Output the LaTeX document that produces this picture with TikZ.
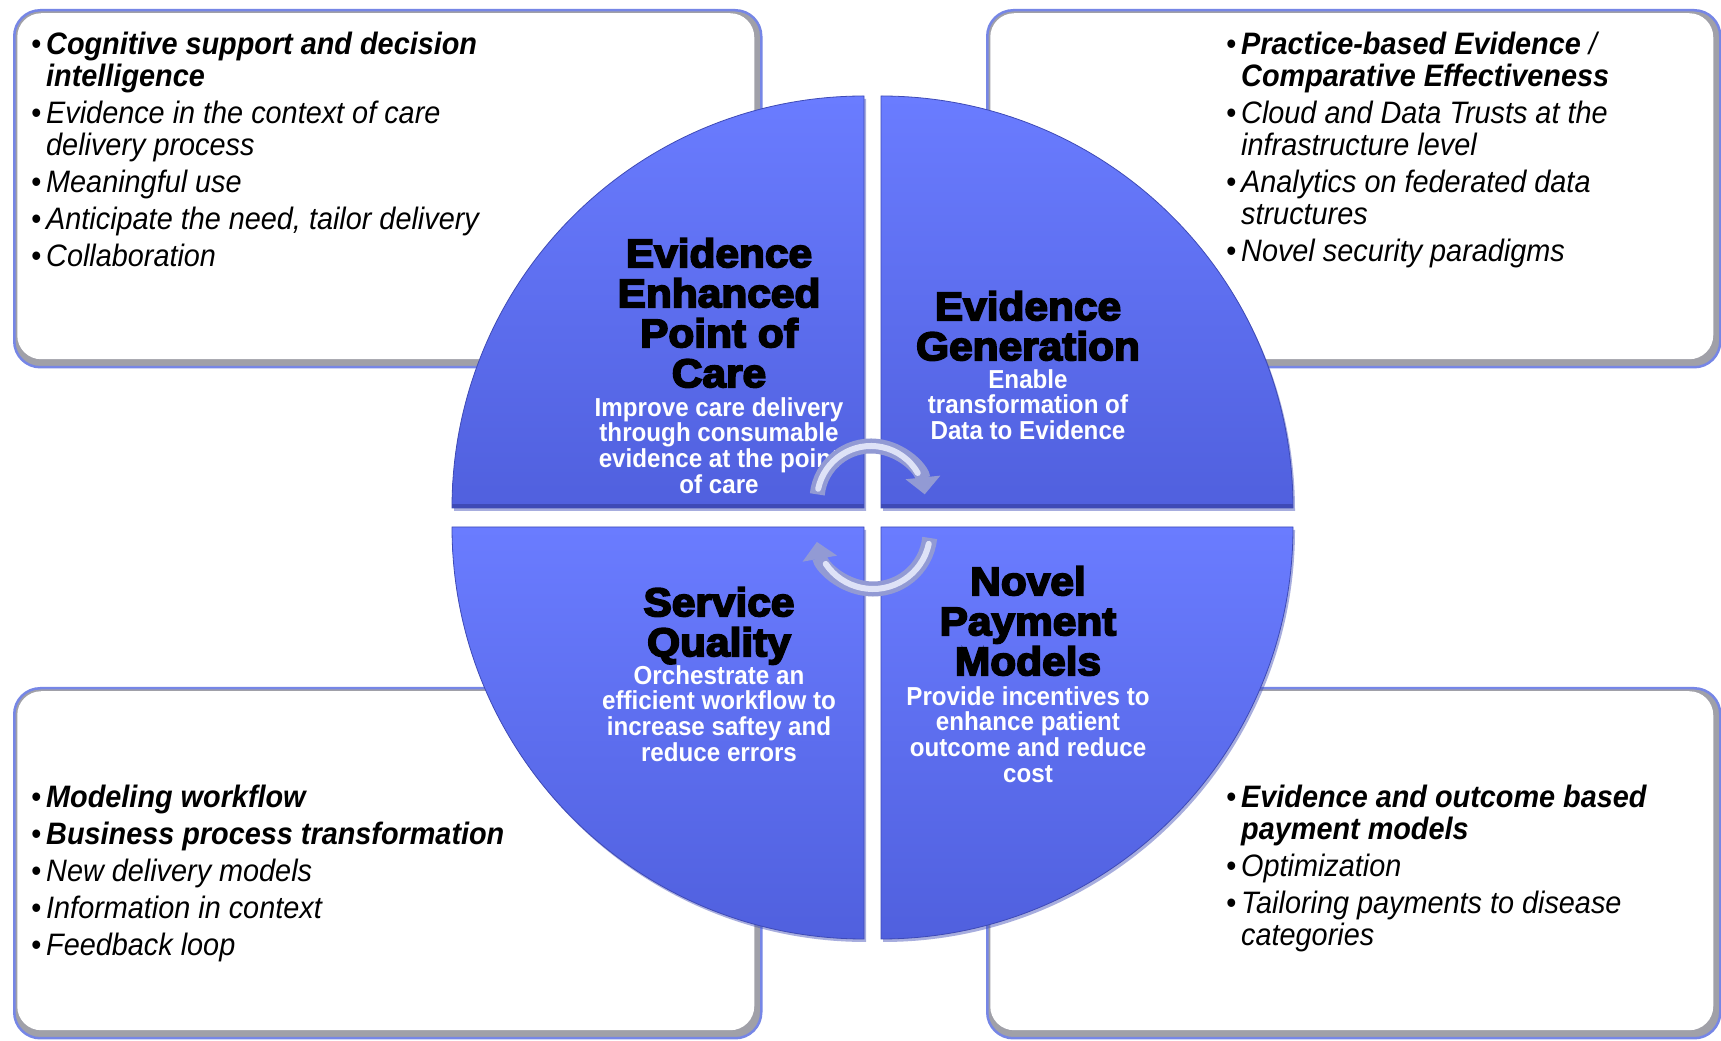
\documentclass[tikz,border=0pt]{standalone}
\usepackage{fontspec}
\setmainfont{Liberation Sans}[FakeStretch=0.93]
\newfontfamily\titlefont{Liberation Sans Bold}[FakeStretch=1.06]
\usetikzlibrary{arrows.meta}
\usetikzlibrary{shadows}
\usetikzlibrary{calc}

\definecolor{quadtop}{RGB}{106,124,255}
\definecolor{quadbot}{RGB}{80,96,222}
\definecolor{quadedge}{RGB}{62,74,182}
\definecolor{boxblue}{RGB}{118,134,230}
\definecolor{boxshade}{RGB}{160,160,168}
\definecolor{arrowdark}{RGB}{146,154,212}
\definecolor{arrowlight}{RGB}{222,226,247}

\newcommand{\bitem}{\makebox[15pt][l]{\textbullet}}
\newcommand{\bcont}{\hspace*{15pt}}
\newcommand{\heavyink}{\special{pdf:literal 2 Tr 1.8 w}}

\tikzset{
  infobox/.style={anchor=north west, draw=boxblue, line width=2.5pt,
    rounded corners=26pt, fill=boxshade,
    path picture={\fill[white, rounded corners=24pt]
      ([shift={(3pt,8pt)}]path picture bounding box.south west) rectangle
      ([shift={(-7pt,-3pt)}]path picture bounding box.north east);}},
  quad/.style={top color=quadtop, bottom color=quadbot, draw=quadedge, line width=0.8pt,
    drop shadow={shadow xshift=2pt, shadow yshift=-3pt, opacity=0.45, fill=quadedge}},
  title/.style={anchor=north, align=center, inner sep=0pt, text=black,
    font=\titlefont\fontsize{40}{40}\selectfont\heavyink},
  subtitle/.style={anchor=north, align=center, inner sep=0pt, text=white,
    font=\bfseries\fontsize{26}{25.7}\selectfont},
  bullets/.style={anchor=north west, align=left, inner sep=0pt, text=black,
    font=\itshape\fontsize{31}{32}\selectfont},
  cyclearrow/.style={draw=arrowdark, line width=15pt, -{Triangle[width=34pt,length=17pt]}},
  cyclelight/.style={draw=arrowlight, line width=6pt, line cap=round}
}

\begin{document}
\begin{tikzpicture}[x=1pt,y=1pt]
  \fill[white] (0,0) rectangle (1721,1041);
  \useasboundingbox (0,0) rectangle (1721,1041);

  \node[infobox, minimum width=747pt, minimum height=357pt] (pocbox) at (13,1032) {};
  \node[infobox, minimum width=733pt, minimum height=357pt] (genbox) at (986,1032) {};
  \node[infobox, minimum width=747pt, minimum height=350pt] (svcbox) at (13,354) {};
  \node[infobox, minimum width=733pt, minimum height=350pt] (paybox) at (986,354) {};

  \shadedraw[quad] (864,533) -- (452,533) arc[start angle=180, end angle=90, radius=412pt] -- cycle;
  \shadedraw[quad] (881,533) -- (881,945) arc[start angle=90, end angle=0, radius=412pt] -- cycle;
  \shadedraw[quad] (864,514) -- (452,514) arc[start angle=180, end angle=270, radius=412pt] -- cycle;
  \shadedraw[quad] (881,514) -- (1293,514) arc[start angle=0, end angle=-90, radius=412pt] -- cycle;
  \draw[quadedge, line width=4pt] (452,535) -- (864,535);
  \draw[quadedge, line width=4pt] (881,535) -- (1293,535);

  \node[title] (poc) at (719,803) {Evidence\\Enhanced\\Point of\\Care};
  \node[subtitle] (poctxt) at (719,644) {Improve care delivery\\through consumable\\evidence at the point\\of care};
  \node[title] (gen) at (1028,750) {Evidence\\Generation};
  \node[subtitle] (gentxt) at (1028,672) {Enable\\transformation of\\Data to Evidence};
  \node[title] (svc) at (719,454) {Service\\Quality};
  \node[subtitle] (svctxt) at (719,376) {Orchestrate an\\efficient workflow to\\increase saftey and\\reduce errors};
  \node[title] (pay) at (1028,475) {Novel\\Payment\\Models};
  \node[subtitle] (paytxt) at (1028,355) {Provide incentives to\\enhance patient\\outcome and reduce\\cost};

  \node[bullets] (poclist) at (31,1009) {%
    \bitem\textbf{Cognitive support and decision}\\
    \bcont\textbf{intelligence}\\[5pt]
    \bitem Evidence in the context of care\\
    \bcont delivery process\\[5pt]
    \bitem Meaningful use\\[5pt]
    \bitem Anticipate the need, tailor delivery\\[5pt]
    \bitem Collaboration};
  \node[bullets] (genlist) at (1226,1009) {%
    \bitem\textbf{Practice-based Evidence} /\\
    \bcont\textbf{Comparative Effectiveness}\\[5pt]
    \bitem Cloud and Data Trusts at the\\
    \bcont infrastructure level\\[5pt]
    \bitem Analytics on federated data\\
    \bcont structures\\[5pt]
    \bitem Novel security paradigms};
  \node[bullets] (svclist) at (31,256) {%
    \bitem\textbf{Modeling workflow}\\[5pt]
    \bitem\textbf{Business process transformation}\\[5pt]
    \bitem New delivery models\\[5pt]
    \bitem Information in context\\[5pt]
    \bitem Feedback loop};
  \node[bullets] (paylist) at (1226,256) {%
    \bitem\textbf{Evidence and outcome based}\\
    \bcont\textbf{payment models}\\[5pt]
    \bitem Optimization\\[5pt]
    \bitem Tailoring payments to disease\\
    \bcont categories};

  \coordinate (hub) at (872,525);
  \draw[cyclearrow] ($(hub)+(-1,16)+(174:54pt)$) arc[start angle=174, end angle=6, radius=54pt];
  \draw[cyclelight] ($(hub)+(-1,16)+(168:54pt)$) arc[start angle=168, end angle=30, radius=54pt];
  \draw[cyclearrow] ($(hub)+(1,-16)+(-6:57pt)$) arc[start angle=-6, end angle=-170, radius=57pt];
  \draw[cyclelight] ($(hub)+(1,-16)+(-12:57pt)$) arc[start angle=-12, end angle=-146, radius=57pt];
\end{tikzpicture}
\end{document}
